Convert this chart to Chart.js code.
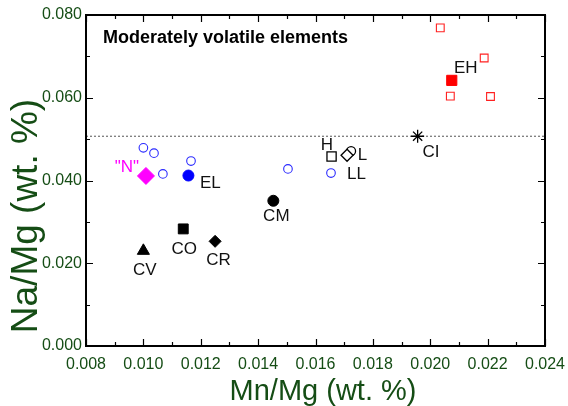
<!DOCTYPE html>
<html>
<head>
<meta charset="utf-8">
<script src="https://cdn.jsdelivr.net/npm/chart.js@4.4.1/dist/chart.umd.min.js"></script>
<style>
  html, body { margin: 0; padding: 0; background: #fff; }
  canvas { display: block; }
</style>
</head>
<body>
<canvas id="c" width="568" height="406"></canvas>
<script>
// ---------- data ----------
const xTickLabels = ["0.008","0.010","0.012","0.014","0.016","0.018","0.020","0.022","0.024"];
const yTickLabels = ["0.000","0.020","0.040","0.060","0.080"];

const ciLineY = 0.0507;

const openCirclesX = [0.0100, 0.01037, 0.01068, 0.01166, 0.01504, 0.01654];
const openCirclesY = [0.0479, 0.0466, 0.0416, 0.0447, 0.0428, 0.0418];

const ehOpenX = [0.02035, 0.02188, 0.0207, 0.0221];
const ehOpenY = [0.0769, 0.0696, 0.0604, 0.0603];

const groupNames = ["EL", "\"N\"", "CV", "CO", "CR", "CM", "H", "L", "LL", "CI", "EH"];
const groupX =     [0.01157, 0.01009, 0.0100, 0.01139, 0.0125, 0.01453, 0.01656, 0.0171, 0.01724, 0.01956, 0.02075];
const groupY =     [0.0412, 0.0411, 0.0230, 0.0283, 0.0253, 0.0351, 0.0458, 0.0461, 0.0471, 0.0507, 0.0642];

// ---------- styles ----------
const green = "#154d15";
const groupStyle = {
  "EL":    { style: "circle",   r: 5.5, fill: "#0000ff", stroke: "#0000ff", bw: 1, dx: 22, dy: 8 },
  "\"N\"": { style: "rectRot",  r: 8.5, fill: "#ff00ff", stroke: "#ff00ff", bw: 1, dx: -19, dy: -8.5, color: "#ff00ff" },
  "CV":    { style: "triangle", r: 7,   fill: "#000",    stroke: "#000",    bw: 1, dx: 1.5, dy: 19.5 },
  "CO":    { style: "rect",     r: 7,   fill: "#000",    stroke: "#000",    bw: 1, dx: 1, dy: 20 },
  "CR":    { style: "rectRot",  r: 6,   fill: "#000",    stroke: "#000",    bw: 1, dx: 3.5, dy: 19 },
  "CM":    { style: "circle",   r: 5.5, fill: "#000",    stroke: "#000",    bw: 1, dx: 3, dy: 16 },
  "H":     { style: "rect",     r: 6.5, fill: "#fff",    stroke: "#000",    bw: 1.3, dx: -4.7, dy: -10.7 },
  "L":     { style: "rectRot",  r: 6,   fill: "#fff",    stroke: "#000",    bw: 1.3, dx: 15.5, dy: 0 },
  "LL":    { style: "circle",   r: 4.5, fill: "rgba(0,0,0,0)", stroke: "#000", bw: 1.3, dx: 5.5, dy: 23 },
  "CI":    { style: "star",     r: 6.5, fill: "#000",    stroke: "#000",    bw: 1.3, dx: 13.3, dy: 16.3 },
  "EH":    { style: "rect",     r: 7.2, fill: "#ff0000", stroke: "#ff0000", bw: 1, dx: 14, dy: -11.6 }
};

const datasets = [];
datasets.push({
  label: "CI level",
  data: [{ x: 0.008, y: ciLineY }, { x: 0.024, y: ciLineY }],
  showLine: true, pointRadius: 0, borderColor: "#555", borderWidth: 1,
  borderDash: [2, 2], fill: false, order: 10
});
datasets.push({
  label: "individual",
  data: openCirclesX.map((x, i) => ({ x, y: openCirclesY[i] })),
  pointStyle: "circle", pointRadius: 4.3, backgroundColor: "rgba(0,0,0,0)",
  borderColor: "#2a2aff", borderWidth: 1.1
});
datasets.push({
  label: "EH individual",
  data: ehOpenX.map((x, i) => ({ x, y: ehOpenY[i] })),
  pointStyle: "rect", pointRadius: 5.5, backgroundColor: "#fff",
  borderColor: "#ff2020", borderWidth: 1.1
});
groupNames.forEach((name, i) => {
  const s = groupStyle[name];
  datasets.push({
    label: name,
    data: [{ x: groupX[i], y: groupY[i] }],
    pointStyle: s.style, pointRadius: s.r, backgroundColor: s.fill,
    borderColor: s.stroke, borderWidth: s.bw, isGroup: true
  });
});

// ---------- plugins ----------
const framePlugin = {
  id: "frame",
  afterDatasetsDraw(chart) {
    const { ctx, chartArea: a, scales } = chart;
    ctx.save();
    ctx.strokeStyle = "#000";
    ctx.lineWidth = 2;
    ctx.beginPath();
    ctx.rect(a.left, a.top, a.right - a.left, a.bottom - a.top);
    ctx.stroke();
    ctx.lineWidth = 1.2;
    for (let k = 0; k <= 16; k++) {
      const v = 0.008 + k * 0.001;
      const px = Math.round(scales.x.getPixelForValue(v)) + 0.5;
      const len = (k % 2 === 0) ? 7 : 4;
      ctx.beginPath();
      ctx.moveTo(px, a.bottom); ctx.lineTo(px, a.bottom - len);
      ctx.moveTo(px, a.top); ctx.lineTo(px, a.top + len);
      ctx.stroke();
    }
    for (let k = 0; k <= 8; k++) {
      const v = k * 0.01;
      const py = Math.round(scales.y.getPixelForValue(v)) + 0.5;
      const len = (k % 2 === 0) ? 7 : 4;
      ctx.beginPath();
      ctx.moveTo(a.left, py); ctx.lineTo(a.left + len, py);
      ctx.moveTo(a.right, py); ctx.lineTo(a.right - len, py);
      ctx.stroke();
    }
    ctx.restore();
  },
  afterDraw(chart) {
    const { ctx, scales } = chart;
    ctx.save();
    ctx.textAlign = "center";
    ctx.textBaseline = "middle";
    ctx.font = "17px 'Liberation Sans', Arial, sans-serif";
    chart.data.datasets.forEach(ds => {
      if (!ds.isGroup) return;
      const s = groupStyle[ds.label];
      const p = ds.data[0];
      const px = scales.x.getPixelForValue(p.x) + s.dx;
      const py = scales.y.getPixelForValue(p.y) + s.dy;
      ctx.fillStyle = s.color || "#111";
      ctx.fillText(ds.label, px, py);
    });
    ctx.textAlign = "left";
    ctx.textBaseline = "alphabetic";
    ctx.fillStyle = "#000";
    ctx.font = "bold 18px 'Liberation Sans', Arial, sans-serif";
    ctx.fillText("Moderately volatile elements", 103, 43);
    ctx.fillStyle = green;
    ctx.textAlign = "center";
    ctx.font = "29px 'Liberation Sans', Arial, sans-serif";
    ctx.fillText("Mn/Mg (wt. %)", 323, 400);
    ctx.translate(37, 216);
    ctx.rotate(-Math.PI / 2);
    ctx.font = "37px 'Liberation Sans', Arial, sans-serif";
    ctx.fillText("Na/Mg (wt. %)", 0, 0);
    ctx.restore();
  }
};

new Chart(document.getElementById("c"), {
  type: "scatter",
  data: { datasets },
  options: {
    responsive: false,
    animation: false,
    devicePixelRatio: 1,
    layout: { padding: { left: 0, right: 23, top: 15, bottom: 0 } },
    plugins: { legend: { display: false }, tooltip: { enabled: false } },
    scales: {
      x: {
        type: "linear", min: 0.008, max: 0.024,
        grid: { display: false, drawTicks: false },
        border: { display: false },
        afterBuildTicks(axis) {
          axis.ticks = xTickLabels.map(t => ({ value: parseFloat(t) }));
        },
        ticks: {
          padding: 9,
          color: green,
          font: { family: "'Liberation Sans', Arial, sans-serif", size: 16 },
          maxRotation: 0, autoSkip: false,
          callback: (v) => v.toFixed(3)
        },
        afterFit(axis) { axis.height = 60; axis.paddingLeft = 0; axis.paddingRight = 0; }
      },
      y: {
        type: "linear", min: 0, max: 0.08,
        grid: { display: false, drawTicks: false },
        border: { display: false },
        afterBuildTicks(axis) {
          axis.ticks = yTickLabels.map(t => ({ value: parseFloat(t) }));
        },
        ticks: {
          padding: 4,
          color: green,
          font: { family: "'Liberation Sans', Arial, sans-serif", size: 16 },
          autoSkip: false,
          callback: (v) => v.toFixed(3)
        },
        afterFit(axis) { axis.width = 86; axis.paddingTop = 0; axis.paddingBottom = 0; }
      }
    }
  },
  plugins: [framePlugin]
});
</script>
</body>
</html>
